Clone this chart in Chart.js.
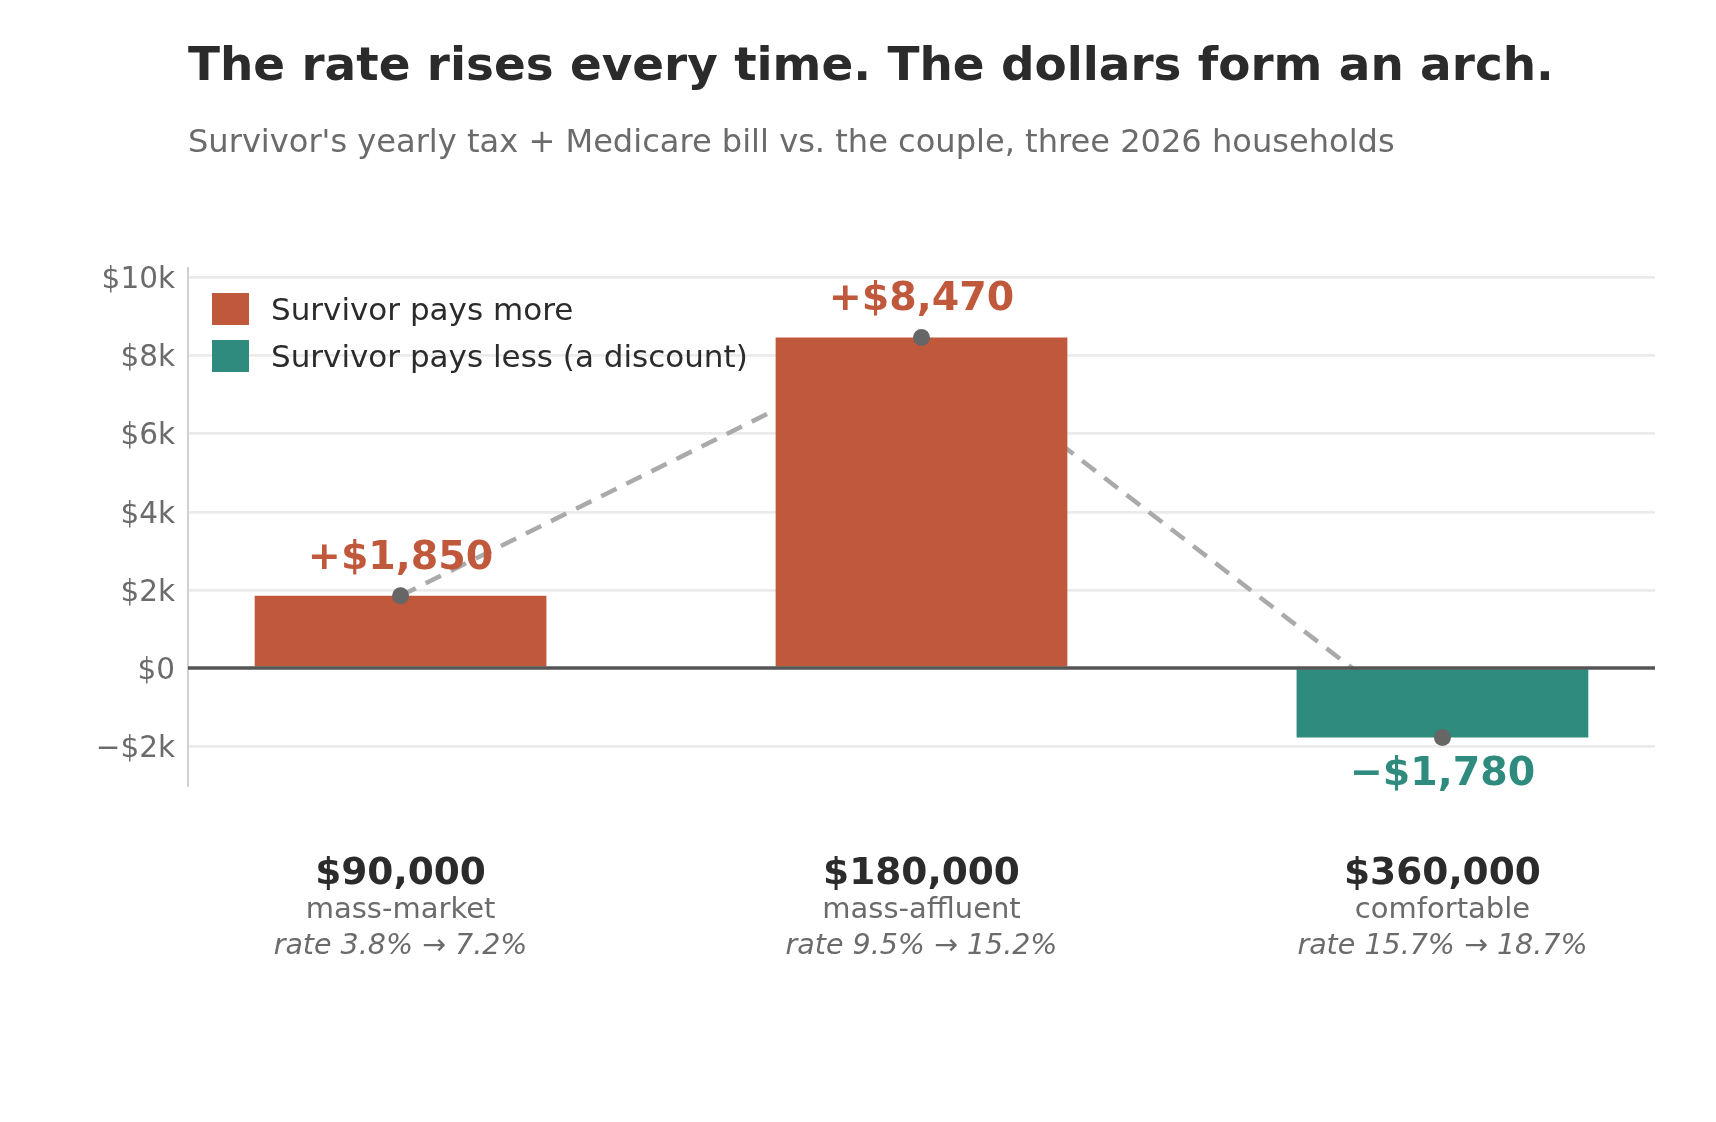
<!DOCTYPE html>
<html><head><meta charset="utf-8">
<script src="https://cdn.jsdelivr.net/npm/chart.js@4/dist/chart.umd.min.js"></script>
<style>html,body{margin:0;padding:0;background:#fff}#wrap{width:1716px;height:1122px;position:relative}canvas{display:block}</style>
</head><body><div id="wrap"><canvas id="c" width="1716" height="1122" style="width:1716px;height:1122px"></canvas></div>
<script>
const titleText = 'The rate rises every time. The dollars form an arch.';
const subtitleText = "Survivor's yearly tax + Medicare bill vs. the couple, three 2026 households";
const categories = ['$90,000', '$180,000', '$360,000'];
const tiers = ['mass-market', 'mass-affluent', 'comfortable'];
const rateNotes = ['rate 3.8% \u2192 7.2%', 'rate 9.5% \u2192 15.2%', 'rate 15.7% \u2192 18.7%'];
const deltas = [1850, 8470, -1780];
const valueLabels = ['+$1,850', '+$8,470', '\u2212$1,780'];
const yTicks = [-2000, 0, 2000, 4000, 6000, 8000, 10000];
const yTickLabels = ['\u2212$2k', '$0', '$2k', '$4k', '$6k', '$8k', '$10k'];
const legendLabels = ['Survivor pays more', 'Survivor pays less (a discount)'];

const RED = '#C0583C', TEAL = '#2E8B7E';
const FONT = '"DejaVu Sans", sans-serif';

const points = deltas.map((v, i) => ({x: i, y: v}));

const deco = {
  id: 'deco',
  beforeDraw(chart) {
    const c = chart.ctx;
    c.save(); c.fillStyle = '#fff'; c.fillRect(0, 0, chart.width, chart.height); c.restore();
  },
  afterDatasetsDraw(chart) {
    const c = chart.ctx, a = chart.chartArea;
    const xs = chart.scales.x, ys = chart.scales.y;
    c.save();
    const y0 = ys.getPixelForValue(0);
    c.strokeStyle = '#555'; c.lineWidth = 3.5;
    c.beginPath(); c.moveTo(a.left, y0); c.lineTo(a.right, y0); c.stroke();
    c.font = 'bold 39.5px ' + FONT; c.textAlign = 'center'; c.textBaseline = 'alphabetic';
    deltas.forEach((v, i) => {
      const x = xs.getPixelForValue(i), yp = ys.getPixelForValue(v);
      c.fillStyle = v >= 0 ? RED : TEAL;
      c.fillText(valueLabels[i], x, v >= 0 ? yp - 27 : yp + 47.5);
    });
    c.restore();
  },
  afterDraw(chart) {
    const c = chart.ctx, a = chart.chartArea;
    const xs = chart.scales.x;
    c.save();
    c.textBaseline = 'alphabetic';
    c.textAlign = 'left';
    c.fillStyle = '#2b2b2b'; c.font = 'bold 46.9px ' + FONT;
    c.fillText(titleText, a.left, 80);
    c.fillStyle = '#6b6b6b'; c.font = '32.1px ' + FONT;
    c.fillText(subtitleText, a.left, 152);
    const colors = [RED, TEAL];
    legendLabels.forEach((t, i) => {
      const cy = a.top + 41 + i * 47;
      c.fillStyle = colors[i];
      c.fillRect(a.left + 24, cy - 16, 37, 32);
      c.fillStyle = '#2b2b2b'; c.font = '31px ' + FONT;
      c.fillText(t, a.left + 83, cy + 11);
    });
    c.textAlign = 'center';
    categories.forEach((t, i) => {
      const x = xs.getPixelForValue(i);
      c.fillStyle = '#2b2b2b'; c.font = 'bold 37.5px ' + FONT;
      c.fillText(t, x, a.bottom + 99);
      c.fillStyle = '#6b6b6b'; c.font = '29px ' + FONT;
      c.fillText(tiers[i], x, a.bottom + 133);
      c.font = 'italic 28.5px ' + FONT;
      c.fillText(rateNotes[i], x, a.bottom + 168.5);
    });
    c.restore();
  }
};

new Chart(document.getElementById('c'), {
  type: 'bar',
  data: {
    datasets: [
      {
        type: 'line', data: points, borderColor: '#aaaaaa', borderWidth: 4.5,
        borderDash: [17, 11], pointRadius: 0, fill: false, order: 3, tension: 0
      },
      {
        type: 'bar', data: points,
        backgroundColor: deltas.map(v => v >= 0 ? RED : TEAL),
        barPercentage: 0.56, categoryPercentage: 1, order: 2
      },
      {
        type: 'line', data: points, showLine: false, pointRadius: 8.5,
        pointBackgroundColor: '#666', pointBorderWidth: 0, order: 1
      }
    ]
  },
  options: {
    responsive: false, animation: false, devicePixelRatio: 1,
    layout: {padding: {left: 0, top: 268, right: 61, bottom: 337}},
    plugins: {legend: {display: false}, tooltip: {enabled: false}, title: {display: false}},
    scales: {
      x: {
        type: 'linear', min: -0.408, max: 2.408, display: false, offset: false,
        afterBuildTicks: s => { s.ticks = categories.map((_, i) => ({value: i})); }
      },
      y: {
        min: -3000, max: 10250,
        afterBuildTicks: s => { s.ticks = yTicks.map(v => ({value: v})); },
        afterFit: s => { s.width = 188; },
        ticks: {
          callback: v => yTickLabels[yTicks.indexOf(v)],
          color: '#6b6b6b', font: {family: 'DejaVu Sans', size: 29.5}, padding: 13, labelOffset: 3
        },
        grid: {
          color: ctx => (ctx.tick && ctx.tick.value === 0) ? 'rgba(0,0,0,0)' : '#ebebeb',
          lineWidth: 2.7, drawTicks: false
        },
        border: {color: '#d0d0d0', width: 2}
      }
    }
  },
  plugins: [deco]
});
</script>
</body></html>
